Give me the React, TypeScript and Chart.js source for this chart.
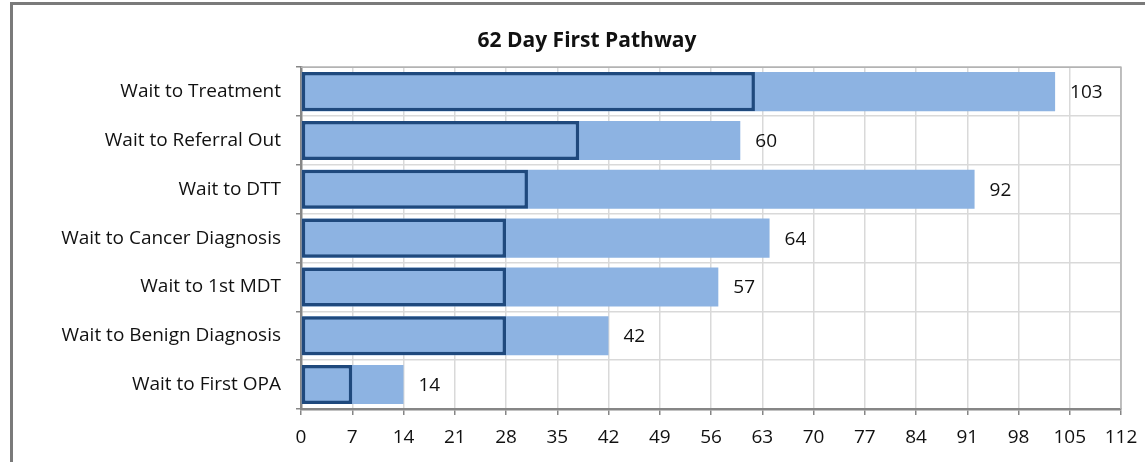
import React, { useEffect, useRef } from "react";
import { Chart, registerables } from "chart.js";

Chart.register(...registerables);

const TITLE = "62 Day First Pathway";
const CATEGORIES = [
  "Wait to Treatment",
  "Wait to Referral Out",
  "Wait to DTT",
  "Wait to Cancer Diagnosis",
  "Wait to 1st MDT",
  "Wait to Benign Diagnosis",
  "Wait to First OPA",
];
const MEDIAN_VALUES = [62, 38, 31, 28, 28, 28, 7];
const MAX_VALUES = [103, 60, 92, 64, 57, 42, 14];
const X_MIN = 0;
const X_MAX = 112;
const X_STEP = 7;

const FONT = "'Open Sans', 'Liberation Sans', sans-serif";
const FILL = "#8DB3E2";
const EDGE = "#1F497D";
const TEXT = "#111111";
const GRID = "#d9d9d9";
const AXIS = "#868686";

const valueLabels = {
  id: "valueLabels",
  afterDatasetsDraw(chart: any) {
    const ctx = chart.ctx;
    const meta = chart.getDatasetMeta(1);
    ctx.save();
    ctx.font = `19px ${FONT}`;
    ctx.fillStyle = TEXT;
    ctx.textAlign = "left";
    ctx.textBaseline = "middle";
    meta.data.forEach((el: any, i: number) => {
      ctx.fillText(String(MAX_VALUES[i]), el.x + 15, el.y + 1);
    });
    ctx.restore();
  },
};

const plotBorder = {
  id: "plotBorder",
  beforeDatasetsDraw(chart: any) {
    const { ctx, chartArea } = chart;
    ctx.save();
    ctx.strokeStyle = "#b3b3b3";
    ctx.lineWidth = 1.5;
    ctx.beginPath();
    ctx.moveTo(chartArea.left, chartArea.top);
    ctx.lineTo(chartArea.right, chartArea.top);
    ctx.lineTo(chartArea.right, chartArea.bottom);
    ctx.stroke();
    ctx.restore();
  },
};

export default function App() {
  const ref = useRef<HTMLCanvasElement | null>(null);

  useEffect(() => {
    if (!ref.current) return;
    const chart = new Chart(ref.current, {
      type: "bar",
      data: {
        labels: CATEGORIES,
        datasets: [
          {
            label: "Median",
            data: MEDIAN_VALUES,
            backgroundColor: FILL,
            borderColor: EDGE,
            borderWidth: 3.5,
            borderSkipped: false,
            grouped: false,
            categoryPercentage: 1,
            barPercentage: 0.8,
          },
          {
            label: "Max",
            data: MAX_VALUES,
            backgroundColor: FILL,
            borderWidth: 0,
            grouped: false,
            categoryPercentage: 1,
            barPercentage: 0.8,
          },
        ],
      },
      options: {
        indexAxis: "y",
        responsive: false,
        animation: false,
        layout: { padding: { left: 53, right: 24, top: 0, bottom: 0 } },
        plugins: {
          legend: { display: false },
          tooltip: { enabled: false },
          title: {
            display: true,
            text: TITLE,
            color: TEXT,
            font: { family: FONT, size: 21, weight: "bold" },
            padding: { top: 28, bottom: 14 },
          },
        },
        scales: {
          x: {
            min: X_MIN,
            max: X_MAX,
            ticks: {
              stepSize: X_STEP,
              color: TEXT,
              font: { family: FONT, size: 19 },
              padding: 11,
              maxRotation: 0,
              autoSkip: false,
            },
            grid: {
              color: GRID,
              lineWidth: 1.5,
              tickColor: AXIS,
              tickLength: 6,
            },
            border: { color: AXIS, width: 2.5 },
            afterFit: (scale: any) => {
              scale.height = 53;
              scale.paddingLeft = 0;
              scale.paddingRight = 0;
            },
          },
          y: {
            ticks: {
              color: TEXT,
              font: { family: FONT, size: 19 },
              padding: 15,
              autoSkip: false,
            },
            grid: {
              color: GRID,
              lineWidth: 1.5,
              tickColor: AXIS,
              tickLength: 5,
              offset: true,
            },
            border: { color: AXIS, width: 2.5 },
            afterFit: (scale: any) => {
              scale.width = 248;
              scale.paddingTop = 0;
              scale.paddingBottom = 0;
            },
          },
        },
      },
      plugins: [plotBorder, valueLabels],
    });
    return () => chart.destroy();
  }, []);

  return (
    <div
      style={{
        position: "fixed",
        left: 0,
        top: 0,
        width: 1145,
        height: 462,
        overflow: "hidden",
        background: "#fff",
      }}
    >
      <div
        style={{
          position: "absolute",
          left: 10,
          top: 2,
          width: 1300,
          height: 700,
          borderTop: "3px solid #7a7a7a",
          borderLeft: "3px solid #7a7a7a",
          boxSizing: "border-box",
        }}
      />
      <canvas
        ref={ref}
        width={1145}
        height={462}
        style={{ position: "absolute", left: 0, top: 0, width: 1145, height: 462 }}
      />
    </div>
  );
}
